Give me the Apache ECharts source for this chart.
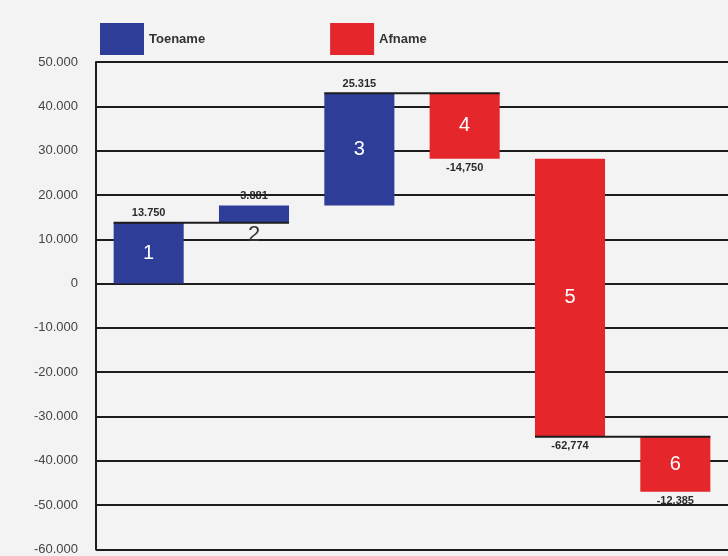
<!DOCTYPE html>
<html>
<head>
<meta charset="utf-8">
<script src="https://cdn.jsdelivr.net/npm/echarts@6/dist/echarts.min.js"></script>
<style>
  html, body { margin: 0; padding: 0; background: #f3f3f3; }
  #chart { width: 728px; height: 556px; }
</style>
</head>
<body>
<div id="chart"></div>
<script>
// stappen van de waterval
var steps = ['1', '2', '3', '4', '5', '6'];
var deltas = [13750, 3881, 25315, -14750, -62774, -12385];
var valueLabels = ['13.750', '3.881', '25.315', '-14,750', '-62,774', '-12.385'];
var yTicks = { min: -60000, max: 50000, interval: 10000 };
// welke verbindingslijnen zichtbaar zijn (van stap i naar i+1)
var connectors = [0, 2, 4];

var BLUE = '#2e3d98';
var RED = '#e5262a';
var FONT = '"Liberation Sans", Arial, sans-serif';

// begin- en eindwaarde per stap
var starts = [], ends = [];
var run = 0;
for (var i = 0; i < deltas.length; i++) {
    starts.push(run);
    run += deltas[i];
    ends.push(run);
}

var upData = [], downData = [];
for (var i = 0; i < deltas.length; i++) {
    var row = [i, starts[i], ends[i]];
    if (deltas[i] >= 0) upData.push(row); else downData.push(row);
}

function renderBar(params, api) {
    var idx = api.value(0);
    var p0 = api.coord([idx, api.value(1)]);
    var p1 = api.coord([idx, api.value(2)]);
    var slot = api.size([1, 0])[0];
    var w = slot * 0.665;
    var top = Math.min(p0[1], p1[1]);
    var h = Math.abs(p1[1] - p0[1]);
    var up = api.value(2) >= api.value(1);
    var cx = p0[0];
    var children = [{
        type: 'rect',
        shape: { x: cx - w / 2, y: top, width: w, height: h },
        style: { fill: api.visual('color') }
    }];
    // verbindingslijn naar volgende stap
    if (connectors.indexOf(idx) >= 0) {
        children.push({
            type: 'line',
            shape: { x1: cx - w / 2, y1: p1[1], x2: cx + slot + w / 2, y2: p1[1] },
            style: { stroke: '#1c1c1c', lineWidth: 2 },
            z2: 5
        });
    }
    // waardelabel
    children.push({
        type: 'text',
        style: {
            x: cx, y: up ? top - 4 : top + h + 4,
            text: valueLabels[idx],
            fill: '#2a2a2a',
            fontSize: 11,
            fontWeight: 'bold',
            fontFamily: FONT,
            align: 'center',
            verticalAlign: up ? 'bottom' : 'top'
        },
        z2: 6
    });
    // stapnummer
    var small = h < 30;
    children.push({
        type: 'text',
        style: {
            x: cx, y: small ? top + h + 12 : top + h / 2,
            text: steps[idx],
            fill: small ? '#333333' : '#ffffff',
            fontSize: small ? 22 : 20,
            fontStyle: 'normal',
            fontWeight: 'normal',
            fontFamily: FONT,
            align: 'center',
            verticalAlign: 'middle'
        },
        z2: 6
    });
    return { type: 'group', children: children };
}

var chart = echarts.init(document.getElementById('chart'));

chart.setOption({
    backgroundColor: '#f3f3f3',
    animation: false,
    legend: {
        left: 95,
        top: 18,
        itemWidth: 44,
        itemHeight: 32,
        itemGap: 125,
        icon: 'rect',
        textStyle: { fontSize: 13, fontWeight: 'bold', color: '#333', fontFamily: FONT },
        data: ['Toename', 'Afname']
    },
    grid: { left: 96, right: -2, top: 62, bottom: 2 },
    xAxis: {
        type: 'category',
        data: steps,
        show: false
    },
    yAxis: {
        type: 'value',
        min: yTicks.min,
        max: yTicks.max,
        interval: yTicks.interval,
        axisLine: { show: true, lineStyle: { color: '#1c1c1c', width: 2 } },
        axisTick: { show: false },
        axisLabel: {
            color: '#444',
            fontSize: 13,
            margin: 18,
            fontFamily: FONT,
            formatter: function (v) {
                var s = Math.abs(v).toString().replace(/\B(?=(\d{3})+(?!\d))/g, '.');
                return (v < 0 ? '-' : '') + s;
            }
        },
        splitLine: { lineStyle: { color: '#1c1c1c', width: 2 } }
    },
    series: [
        {
            name: 'Toename',
            type: 'custom',
            itemStyle: { color: BLUE },
            renderItem: renderBar,
            encode: { x: 0, y: [1, 2] },
            data: upData,
            z: 3
        },
        {
            name: 'Afname',
            type: 'custom',
            itemStyle: { color: RED },
            renderItem: renderBar,
            encode: { x: 0, y: [1, 2] },
            data: downData,
            z: 3
        }
    ]
});
</script>
</body>
</html>
